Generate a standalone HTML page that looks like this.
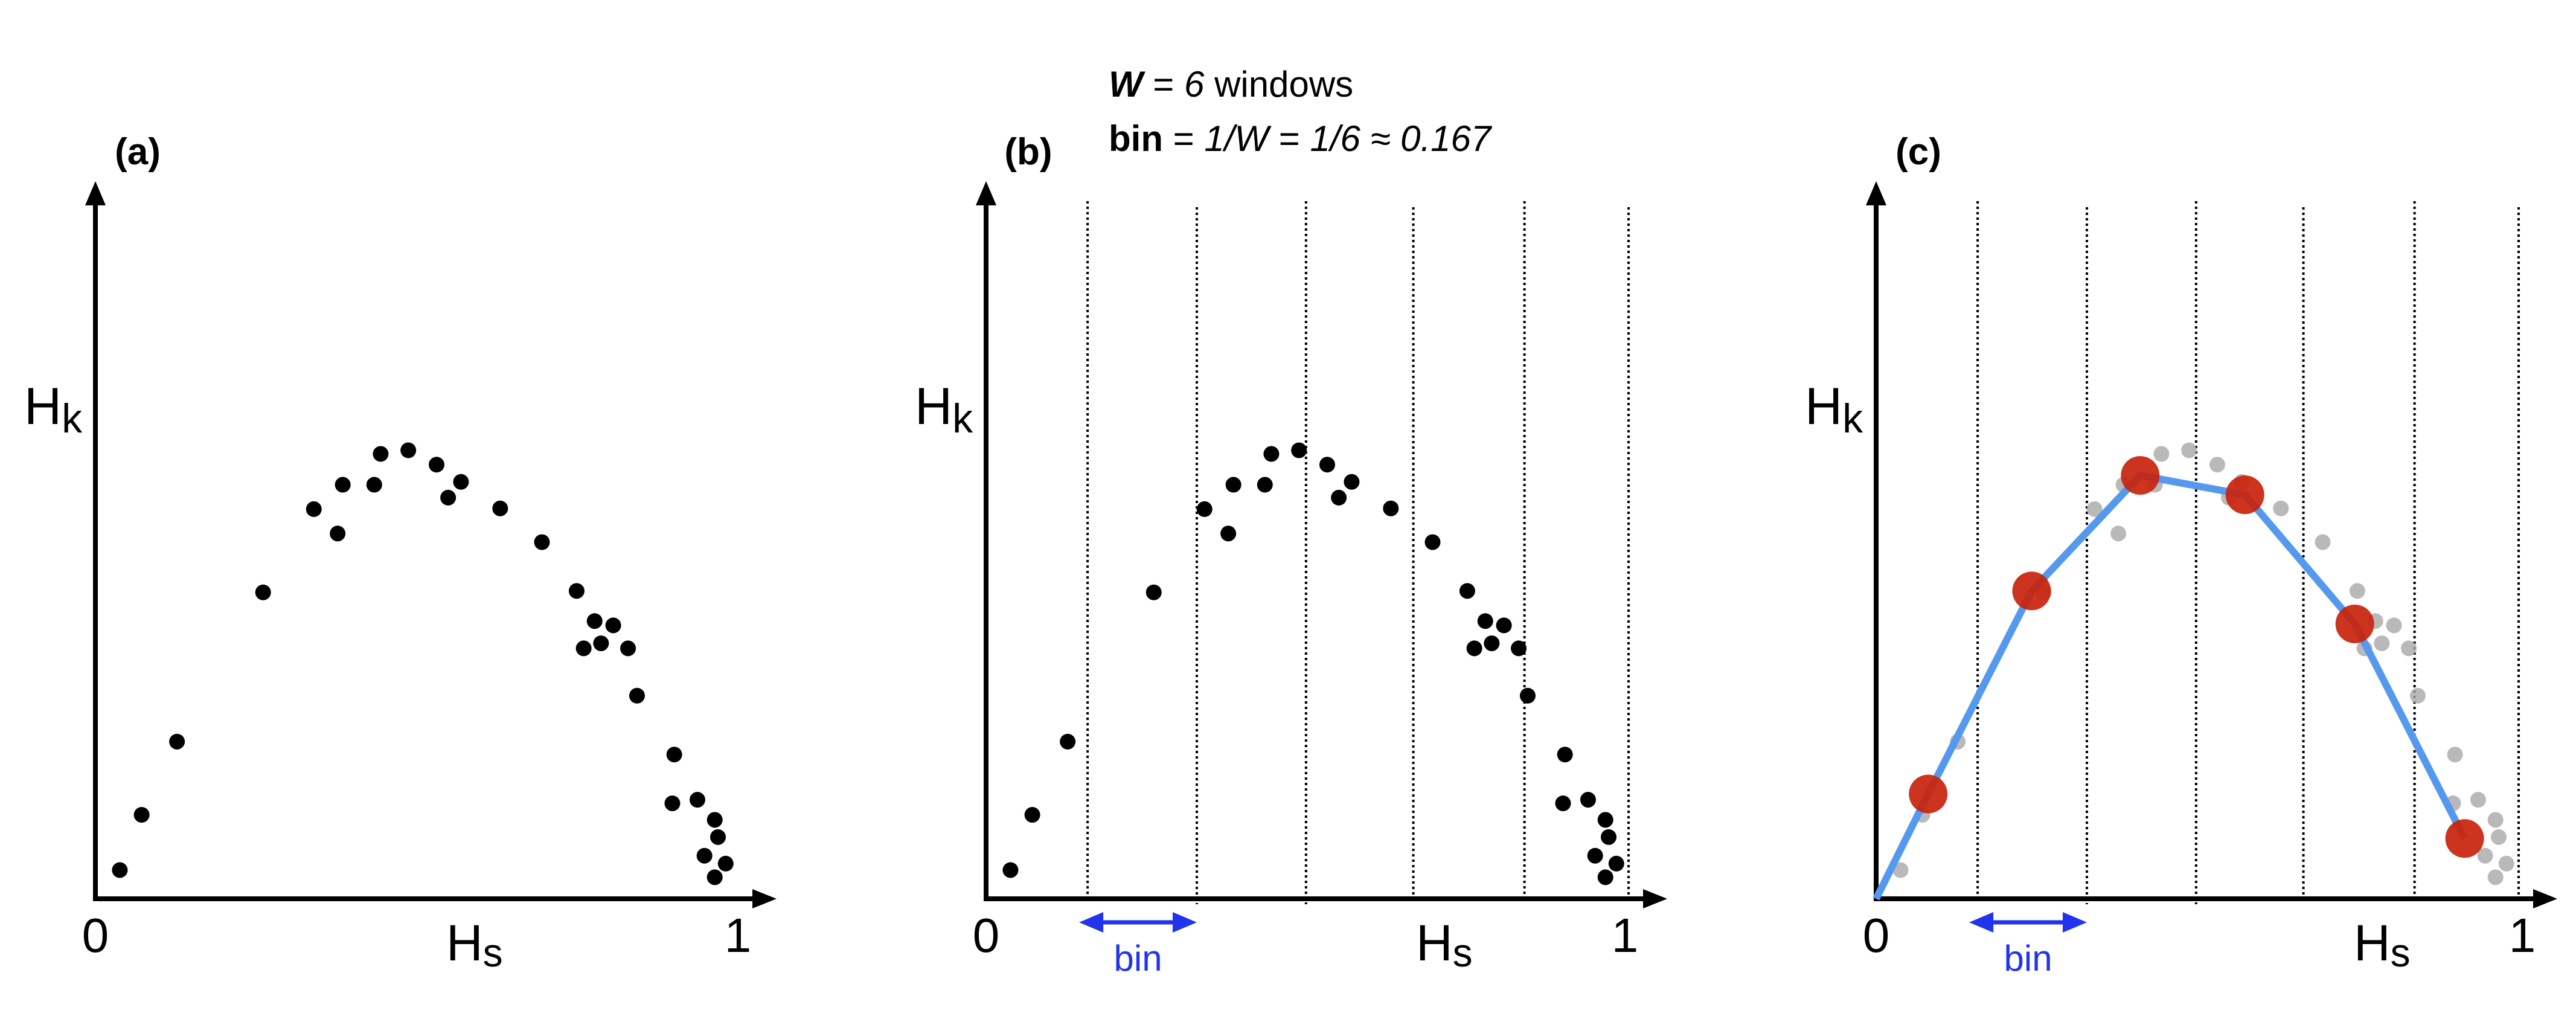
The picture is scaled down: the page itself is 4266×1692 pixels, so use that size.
<!DOCTYPE html>
<html><head><meta charset="utf-8"><style>
html,body{margin:0;padding:0;background:#fff}
svg{display:block;font-family:"Liberation Sans",sans-serif}
</style></head><body>
<svg id="chart" width="4266" height="1692" viewBox="0 0 4266 1692" xmlns="http://www.w3.org/2000/svg">
<g>
<text x="1836" y="160" font-size="60"><tspan font-weight="bold" font-style="italic">W</tspan> = <tspan font-style="italic">6</tspan> windows</text>
<text x="1836" y="250" font-size="60"><tspan font-weight="bold">bin</tspan> = <tspan font-style="italic">1/W</tspan> = <tspan font-style="italic">1/6 ≈ 0.167</tspan></text>
</g>
</svg>
<script>
const hsValues=[.038,.072,.127,.261,.340,.377,.385,.434,.444,.487,.531,.549,.569,.630,.695,.749,.777,.806,.760,.787,.829,.843,.901,.898,.937,.964,.969,.948,.981,.964];
const hkValues=[.040,.117,.219,.427,.543,.509,.577,.577,.620,.625,.605,.559,.581,.544,.497,.429,.387,.381,.349,.356,.349,.283,.201,.133,.138,.110,.086,.060,.049,.030];
const binEdges=[0.158,0.328,0.498,0.665,0.838,1.0];
const binHs=[.081,.242,.411,.574,.745,.916];
const binHk=[.146,.429,.590,.563,.383,.084];
const NS='http://www.w3.org/2000/svg';
const svg=document.getElementById('chart');
const AXIS_Y=1488, XS=1064, YS=1188;
function mk(tag,attrs,parent){const e=document.createElementNS(NS,tag);for(const k in attrs)e.setAttribute(k,attrs[k]);(parent||svg).appendChild(e);return e;}
function panel(x0,id,opts){
  const g=mk('g',{});
  
  
  const sx=v=>x0+v*XS, sy=v=>AXIS_Y-v*YS;
  if(opts.bins){
    binEdges.forEach((b,i)=>{
      const l=mk('line',{x1:sx(b),x2:sx(b),y1:(i%2?343:333),y2:(i==1||i==2)?1497:1488,stroke:'#000','stroke-width':4,'stroke-dasharray':'4 5'},g);
      
      
    });
  }
  const xa=mk('line',{x1:x0-4,x2:x0+1090,y1:AXIS_Y,y2:AXIS_Y,stroke:'#000','stroke-width':8},g);
  
  
  const xh=mk('polygon',{points:`${x0+1128},${AXIS_Y} ${x0+1088},${AXIS_Y-16} ${x0+1088},${AXIS_Y+16}`,fill:'#000'},g);
  
  
  const ya=mk('line',{x1:x0,x2:x0,y1:AXIS_Y+4,y2:335,stroke:'#000','stroke-width':8},g);
  
  
  const yh=mk('polygon',{points:`${x0},300 ${x0-17},340 ${x0+17},340`,fill:'#000'},g);
  
  
  const pl=mk('text',{x:x0+70,y:272,'font-size':62,'font-weight':'bold','text-anchor':'middle'},g);pl.textContent='('+id+')';
  
  
  const hk=mk('text',{x:x0-118,y:702,'font-size':86},g);hk.innerHTML='H<tspan font-size="68" dy="14">k</tspan>';
  
  
  const hs=mk('text',{x:x0+opts.hsX,y:1590,'font-size':84},g);hs.innerHTML='H<tspan font-size="66" dy="10">s</tspan>';
  
  
  const t0=mk('text',{x:x0,y:1576,'font-size':80,'text-anchor':'middle'},g);t0.textContent='0';
  
  
  const t1=mk('text',{x:x0+opts.oneX,y:1576,'font-size':80,'text-anchor':'middle'},g);t1.textContent='1';
  
  
  if(opts.bins){
    const a1=sx(binEdges[0])-14, a2=sx(binEdges[1]);
    const ar=mk('g',{},g);
    
    
    mk('line',{x1:a1+30,x2:a2-30,y1:1527,y2:1527,stroke:'#2233ee','stroke-width':7},ar);
    mk('polygon',{points:`${a1},1527 ${a1+40},1510 ${a1+40},1544`,fill:'#2233ee'},ar);
    mk('polygon',{points:`${a2},1527 ${a2-40},1510 ${a2-40},1544`,fill:'#2233ee'},ar);
    const bt=mk('text',{x:(a1+a2)/2,y:1607,'font-size':60,fill:'#2233ee','text-anchor':'middle'},g);bt.textContent='bin';
    
    
  }
  hsValues.forEach((v,i)=>{
    const c=mk('circle',{cx:sx(v),cy:sy(hkValues[i]),r:13,fill:opts.gray?'#a8a8a8':'#000','fill-opacity':opts.gray?0.8:1},g);
    
    
  });
  if(opts.fit){
    const pts=[[sx(0),sy(0)]].concat(binHs.map((v,i)=>[sx(v),sy(binHk[i])]));
    const pl2=mk('polyline',{points:pts.map(p=>p.join(',')).join(' '),fill:'none',stroke:'#5599ee','stroke-width':12,'stroke-linejoin':'round'},g);
    
    
    binHs.forEach((v,i)=>{
      const c=mk('circle',{cx:sx(v),cy:sy(binHk[i]),r:32,fill:'#c8230c','fill-opacity':0.92},g);
      
      
    });
  }
}
panel(158,'a',{hsX:581,oneX:1064});
panel(1633,'b',{bins:true,hsX:712,oneX:1058});
panel(3107,'c',{bins:true,gray:true,fit:true,hsX:791,oneX:1070});
</script>
</body></html>
